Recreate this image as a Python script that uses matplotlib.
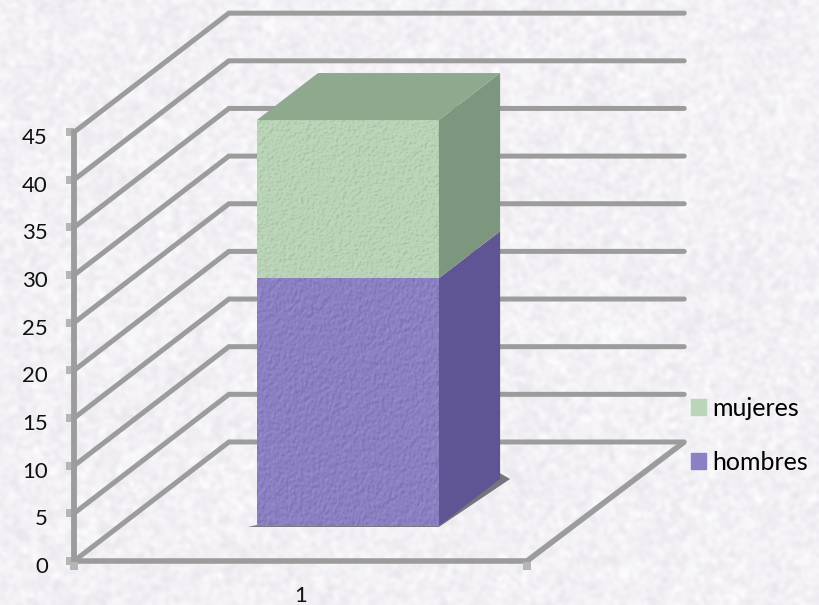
import numpy as np
import matplotlib

matplotlib.use("Agg")
import matplotlib.pyplot as plt
from matplotlib.patches import Patch, Polygon
from matplotlib.transforms import ScaledTranslation

categories = [1]
series_names = ["hombres", "mujeres"]
hombres = [26.0]
mujeres = [16.6]
y_ticks = [0, 5, 10, 15, 20, 25, 30, 35, 40, 45]

# 3D look: how far one full unit of depth shifts a point, in data units
DEPTH_X = 0.342
DEPTH_Y = 12.49
BAR_WIDTH = 0.402
BAR_D0, BAR_D1 = 0.294, 0.689

GREY = "#9c9c9c"
FACES = {
    "hombres": ("#8a80c4", "#5f5594", "#6f6aa0"),
    "mujeres": ("#bad5b8", "#7c977d", "#8fa98f"),
}

plt.rcParams["font.family"] = ["Lato", "DejaVu Sans"]


def proj(x, v, d):
    return x + d * DEPTH_X, v + d * DEPTH_Y


def smooth_noise(shape, seed, scale):
    # paper grain for the backdrop and the bar faces, not chart data
    rng = np.random.default_rng(seed)
    spec = np.fft.fft2(rng.normal(size=shape))
    fy = np.fft.fftfreq(shape[0])[:, None]
    fx = np.fft.fftfreq(shape[1])[None, :]
    out = np.fft.ifft2(spec * np.exp(-(fx**2 + fy**2) * scale**2)).real
    return out / out.std()


def grain_overlay(ax, x0, x1, y0, y1, clip, seed):
    n = smooth_noise((300, 300), seed, 6)
    emboss = n - np.roll(np.roll(n, 2, 0), 2, 1)
    rgba = np.zeros((300, 300, 4))
    rgba[..., :3] = (emboss > 0)[..., None] * 1.0
    rgba[..., 3] = np.clip(np.abs(emboss) * 0.04, 0, 0.1)
    im = ax.imshow(rgba, extent=(x0, x1, y0, y1), aspect="auto", zorder=4)
    im.set_clip_path(clip)


fig = plt.figure(figsize=(8.2, 6.05), dpi=100)

bg = fig.add_axes([0, 0, 1, 1], zorder=0)
bg.axis("off")
grain = smooth_noise((605, 820), 3, 10) + 0.2 * smooth_noise((605, 820), 4, 50)
bg.imshow(grain, cmap=matplotlib.colors.LinearSegmentedColormap.from_list(
    "paper", ["#eae7ee", "#f3f1f5", "#fbfafc"]), vmin=-3, vmax=3, aspect="auto")

ax = fig.add_axes([0, 0, 1, 1], zorder=1)
ax.patch.set_alpha(0)
for s in ax.spines.values():
    s.set_visible(False)

# back wall and left wall gridlines
x_left, x_right = 0.5, 1.5
for v in y_ticks:
    bx, by = proj(x_left, v, 1)
    ax.plot([x_left, bx, x_right + 0.005 + DEPTH_X], [v, by, by],
            color=GREY, lw=3.6, solid_capstyle="round", solid_joinstyle="miter", zorder=1)
# floor front edge and right edge
fx, fy = proj(x_right + 0.005, 0, 1)
ax.plot([x_left, x_right, fx], [0, 0, fy], color=GREY, lw=4,
        solid_capstyle="butt", solid_joinstyle="round", zorder=2)
ax.plot([x_left, x_left], [0, y_ticks[-1]], color=GREY, lw=4.2, zorder=2)
ax.plot([x_left - 0.008] * len(y_ticks), y_ticks, ls="none", marker="s", ms=5.6,
        color="#b5b5b5", mew=0, zorder=1.5)
ax.plot([x_left, x_right], [-0.5, -0.5], ls="none", marker="s", ms=5.6,
        color="#b5b5b5", mew=0, zorder=2)

# stacked 3D bar
cx = categories[0]
xa, xb = cx - BAR_WIDTH / 2 + 0.004, cx + BAR_WIDTH / 2 + 0.004
base = 0.0
ax.add_patch(Polygon([proj(xa - 0.02, -0.1, BAR_D0), proj(xb, -0.1, BAR_D0),
                      proj(xb + 0.022, 0.0, BAR_D1), proj(xb, 0.6, BAR_D1)],
                     color="#77757c", lw=0, zorder=2.5))
for name, vals in zip(series_names, [hombres, mujeres]):
    h = vals[0]
    col_front, col_side, col_top = FACES[name]
    f = Polygon([proj(xa, base, BAR_D0), proj(xb, base, BAR_D0),
                 proj(xb, base + h, BAR_D0), proj(xa, base + h, BAR_D0)],
                color=col_front, lw=0, zorder=3)
    s = Polygon([proj(xb, base, BAR_D0), proj(xb, base, BAR_D1),
                 proj(xb, base + h, BAR_D1), proj(xb, base + h, BAR_D0)],
                color=col_side, lw=0, zorder=3)
    ax.add_patch(f)
    ax.add_patch(s)
    x0, y0 = proj(xa, base, BAR_D0)
    x1, y1 = proj(xb, base + h, BAR_D0)
    grain_overlay(ax, x0, x1, y0, y1, f, 10 + int(h))
    base += h
t = [proj(xa, base, BAR_D0), proj(xb, base, BAR_D0),
     proj(xb, base, BAR_D1), proj(xa, base, BAR_D1)]
ax.add_patch(Polygon(t, color=FACES["mujeres"][2], lw=0, zorder=3))

# limits keep 1 value unit = 9.53 px, 1 category = 453 px
ax.set_xlim(0.3366, 2.1468)
ax.set_ylim(-4.617, 58.87)

ax.set_yticks(y_ticks)
ax.set_xticks(categories)
ax.tick_params(axis="both", length=0, labelsize=16, labelcolor="#111111")
ax.tick_params(axis="y", direction="in", pad=-34.5, labelleft=True)
shift = ScaledTranslation(0, -4 / 100, fig.dpi_scale_trans)
for lab in ax.get_yticklabels():
    lab.set_ha("right")
    lab.set_transform(lab.get_transform() + shift)
ax.tick_params(axis="x", direction="in", pad=-14, labelbottom=True)
ax.set_axisbelow(False)

handles = [Patch(color=FACES["mujeres"][0], label="mujeres"),
           Patch(color=FACES["hombres"][0], label="hombres")]
ax.legend(handles=handles, loc="upper left", bbox_to_anchor=(0.8427, 0.344),
          bbox_transform=fig.transFigure, frameon=False, fontsize=18,
          handlelength=0.6, handleheight=0.6, handletextpad=0.24,
          labelspacing=1.25, borderpad=0, borderaxespad=0)

fig.savefig("out.png", dpi=100)
plt.close(fig)
